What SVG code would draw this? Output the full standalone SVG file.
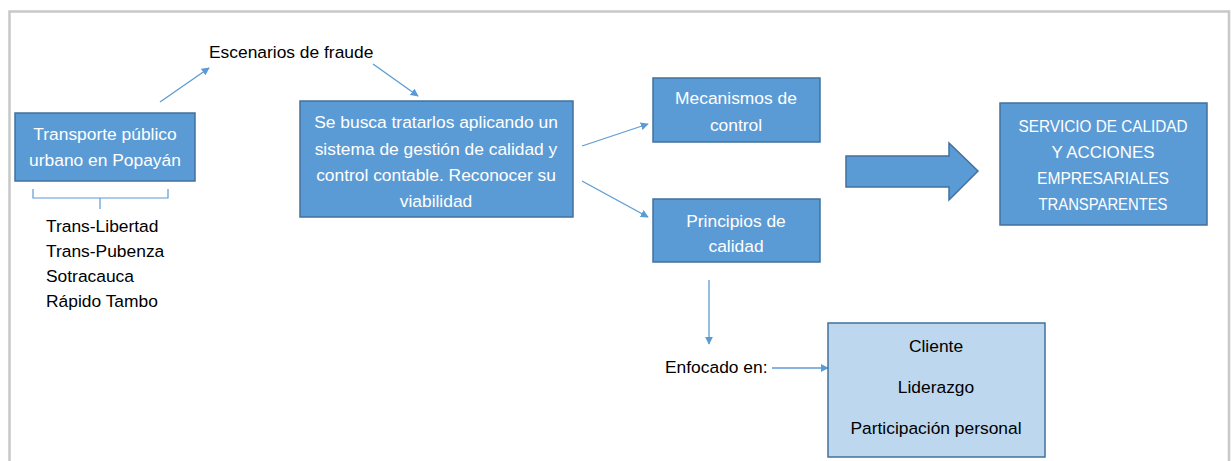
<svg xmlns="http://www.w3.org/2000/svg" width="1231" height="461" viewBox="0 0 1231 461">
<defs>
<marker id="ah" viewBox="0 0 10 10" refX="9" refY="5" markerWidth="8" markerHeight="8" markerUnits="userSpaceOnUse" orient="auto">
<path d="M0,0 L10,5 L0,10 z" fill="#5B9BD5"/>
</marker>
<style>
.box{fill:#5B9BD5;stroke:#41719C;stroke-width:1.5}
.lbox{fill:#BDD7EE;stroke:#41719C;stroke-width:1.5}
.wt{font-family:"Liberation Sans",Arial,sans-serif;font-size:17.4px;fill:#FFFFFF;text-anchor:middle}
.cap{font-size:17px}
.bt{font-family:"Liberation Sans",Arial,sans-serif;font-size:17.4px;fill:#000000}
.bc{text-anchor:middle}
.conn{stroke:#5B9BD5;stroke-width:1.3;fill:none;marker-end:url(#ah)}
</style>
</defs>
<rect width="1231" height="461" fill="#FFFFFF"/>
<path d="M9.5,461 V11.5 H1229 V461" fill="none" stroke="#C8C8C8" stroke-width="2.5"/>

<g id="connectors">
<line class="conn" x1="160" y1="102" x2="209" y2="68"/>
<line class="conn" x1="373" y1="64" x2="418" y2="96"/>
<line class="conn" x1="582" y1="146" x2="648" y2="124"/>
<line class="conn" x1="582" y1="181" x2="648" y2="217"/>
<line class="conn" x1="709" y1="280" x2="709" y2="344"/>
<line class="conn" x1="772" y1="368" x2="828" y2="368"/>
<path d="M33,189 V198 H100 V209 M100,198 H168 V189" fill="none" stroke="#5B9BD5" stroke-width="1.2"/>
<path d="M846,156 H949 V143 L978,171 L949,200 V187 H846 Z" fill="#5B9BD5" stroke="#41719C" stroke-width="1.5"/>
</g>

<g id="transporte">
<rect class="box" x="15" y="113" width="180" height="68"/>
<text class="wt" x="105" y="140">Transporte público</text>
<text class="wt" x="105" y="166">urbano en Popayán</text>
</g>

<g id="empresas">
<text class="bt" x="46" y="232">Trans-Libertad</text>
<text class="bt" x="46" y="257">Trans-Pubenza</text>
<text class="bt" x="46" y="282">Sotracauca</text>
<text class="bt" x="46" y="307">Rápido Tambo</text>
</g>

<g id="escenarios">
<text class="bt" x="209" y="58">Escenarios de fraude</text>
</g>

<g id="sistema">
<rect class="box" x="300" y="101" width="273" height="116"/>
<text class="wt" x="436" y="128">Se busca tratarlos aplicando un</text>
<text class="wt" x="436" y="155">sistema de gestión de calidad y</text>
<text class="wt" x="436" y="181">control contable. Reconocer su</text>
<text class="wt" x="436" y="207">viabilidad</text>
</g>

<g id="mecanismos">
<rect class="box" x="653" y="78" width="167" height="64"/>
<text class="wt" x="736" y="104">Mecanismos de</text>
<text class="wt" x="736" y="131">control</text>
</g>

<g id="principios">
<rect class="box" x="653" y="199" width="167" height="63"/>
<text class="wt" x="736" y="227">Principios de</text>
<text class="wt" x="736" y="252">calidad</text>
</g>

<g id="servicio">
<rect class="box" x="1000" y="103" width="207" height="122"/>
<text class="wt cap" x="1103" y="132" textLength="169" lengthAdjust="spacingAndGlyphs">SERVICIO DE CALIDAD</text>
<text class="wt cap" x="1103" y="158" textLength="103" lengthAdjust="spacingAndGlyphs">Y ACCIONES</text>
<text class="wt cap" x="1103" y="184" textLength="132" lengthAdjust="spacingAndGlyphs">EMPRESARIALES</text>
<text class="wt cap" x="1103" y="210" textLength="129" lengthAdjust="spacingAndGlyphs">TRANSPARENTES</text>
</g>

<g id="enfocado">
<text class="bt" x="665" y="373">Enfocado en:</text>
</g>

<g id="principios-lista">
<rect class="lbox" x="828" y="323" width="217" height="134"/>
<text class="bt bc" x="936" y="352">Cliente</text>
<text class="bt bc" x="936" y="393">Liderazgo</text>
<text class="bt bc" x="936" y="434">Participación personal</text>
</g>
</svg>
